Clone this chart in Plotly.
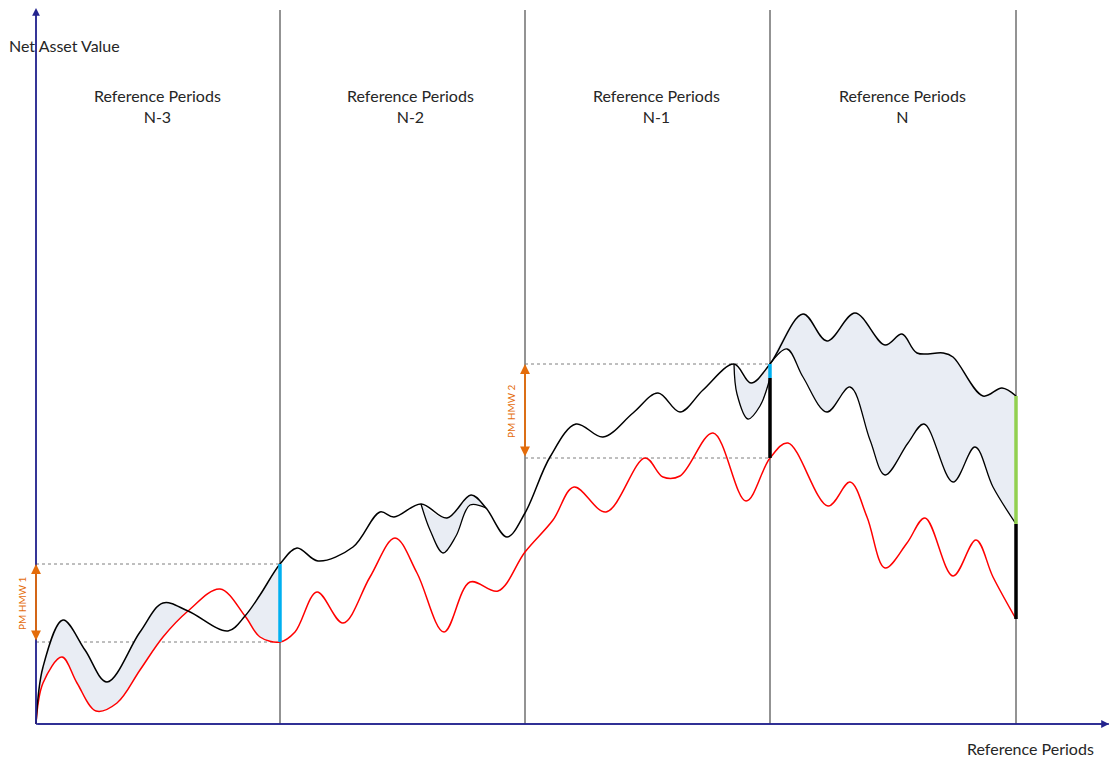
import plotly.graph_objects as go

# ---------------- data (time in days since start, NAV in index units) ----------------
period_bounds = [0, 244, 489, 734, 980]
period_names = ["N-3", "N-2", "N-1", "N"]

nav_t = [0, 7, 27, 49, 71, 104, 127, 152, 192, 209, 224, 244,
         261, 282, 317, 344, 358, 385, 411, 435, 450, 471, 489,
         514, 540, 567, 597, 622, 644, 667, 698, 715, 734,
         767, 791, 819, 849, 866, 881, 907, 917, 947, 966, 980]
nav_v = [0, 57, 104, 74, 42, 92, 121, 113, 93, 108, 129, 160,
         176, 163, 177, 212, 207, 220, 206, 229, 216, 187, 211,
         267, 300, 287, 311, 331, 312, 334, 360, 341, 360,
         410, 383, 411, 379, 390, 371, 371, 367, 328, 336, 328]

red_t = [0, 7, 26, 41, 60, 81, 104, 127, 152, 184, 209, 224, 244,
         259, 281, 307, 334, 359, 381, 408, 434, 462, 489,
         517, 538, 570, 609, 627, 644, 677, 710, 734,
         752, 792, 814, 831, 849, 871, 889, 917, 940, 957, 980]
red_v = [0, 41, 67, 41, 13, 21, 54, 87, 113, 135, 108, 87, 82,
         92, 132, 101, 147, 186, 151, 92, 142, 133, 172,
         204, 237, 212, 266, 247, 248, 291, 223, 266,
         281, 218, 242, 207, 156, 181, 206, 148, 184, 147, 105]

br_n2_t = [385, 394, 407, 420, 434, 450]
br_n2_v = [220, 194, 171, 188, 219, 216]
br_n1_t = [698, 701, 712, 724, 734]
br_n1_v = [360, 330, 305, 318, 346]
br_n_t = [734, 751, 767, 791, 814, 834, 849, 872, 888, 917, 939, 957, 980]
br_n_v = [360, 375, 347, 312, 337, 284, 249, 281, 300, 242, 277, 237, 200]

hmw_labels = ["PM HMW 1", "PM HMW 2"]

# ---------------- styles ----------------
FONT = "Lato"
AXIS_C = "#23238e"
GRID_C = "#595959"
FILL_C = "#e9edf4"
ORANGE = "#e46c0a"
CYAN = "#00b0f0"
GREEN = "#92d050"
TITLE_X = [121, 374, 620, 866]


def seg(ts, vs, a, b):
    pts = [(t, v) for t, v in zip(ts, vs) if a <= t <= b]
    return [p[0] for p in pts], [p[1] for p in pts]


def val_at(ts, vs, t):
    return vs[ts.index(t)]


fig = go.Figure()

# shaded areas (lower boundary first, then upper with tonexty)
regions = [
    ((nav_t, nav_v), (red_t, red_v), 0, 152),
    ((nav_t, nav_v), (red_t, red_v), 209, 244),
    ((nav_t, nav_v), (br_n2_t, br_n2_v), 385, 450),
    ((nav_t, nav_v), (br_n1_t, br_n1_v), 698, 734),
    ((nav_t, nav_v), (br_n_t, br_n_v), 734, 980),
]
for (hi, lo, a, b) in regions:
    lx, ly = seg(lo[0], lo[1], a, b)
    hx, hy = seg(hi[0], hi[1], a, b)
    fig.add_trace(go.Scatter(x=lx, y=ly, mode="lines", line=dict(width=0, shape="spline"),
                             hoverinfo="skip", showlegend=False))
    fig.add_trace(go.Scatter(x=hx, y=hy, mode="lines", line=dict(width=0, shape="spline"),
                             fill="tonexty", fillcolor=FILL_C, hoverinfo="skip", showlegend=False))

# curves
fig.add_trace(go.Scatter(x=red_t, y=red_v, mode="lines",
                         line=dict(color="#ff0000", width=1.5, shape="spline"), showlegend=False))
for bt, bv in [(br_n2_t, br_n2_v), (br_n1_t, br_n1_v), (br_n_t, br_n_v)]:
    fig.add_trace(go.Scatter(x=bt, y=bv, mode="lines",
                             line=dict(color="#000000", width=1.3, shape="spline"), showlegend=False))
fig.add_trace(go.Scatter(x=nav_t, y=nav_v, mode="lines",
                         line=dict(color="#000000", width=1.5, shape="spline"), showlegend=False))

shapes = []
top = 714
# period separators
for t in period_bounds[1:]:
    shapes.append(dict(type="line", x0=t, x1=t, y0=0, y1=top, layer="below",
                       line=dict(color=GRID_C, width=1.3)))

# high water mark dotted lines
p1, p2, p3 = period_bounds[1], period_bounds[2], period_bounds[3]
hmw1_hi = val_at(nav_t, nav_v, p1)
hmw1_lo = val_at(red_t, red_v, p1)
hmw2_hi = val_at(nav_t, nav_v, p3)
hmw2_lo = val_at(red_t, red_v, p3)
for (x0, x1, y) in [(0, p1, hmw1_hi), (0, p1, hmw1_lo), (p2, p3, hmw2_hi), (p2, p3, hmw2_lo)]:
    shapes.append(dict(type="line", x0=x0, x1=x1, y0=y, y1=y, layer="below",
                       line=dict(color="#7f7f7f", width=1, dash="dot")))

# coloured vertical markers
p4 = period_bounds[4]
n1_lo = val_at(br_n1_t, br_n1_v, p3)
n_hi = val_at(nav_t, nav_v, p4)
n_lo = val_at(br_n_t, br_n_v, p4)
n_red = val_at(red_t, red_v, p4)
for (x, y0, y1, c) in [(p1, hmw1_lo, hmw1_hi, CYAN),
                       (p3, n1_lo, hmw2_hi, CYAN),
                       (p3, hmw2_lo, n1_lo, "#000000"),
                       (p4, n_lo, n_hi, GREEN),
                       (p4, n_red, n_lo, "#000000")]:
    shapes.append(dict(type="line", x0=x, x1=x, y0=y0, y1=y1, layer="above",
                       line=dict(color=c, width=3.5)))

annotations = []
# axes with arrows
annotations.append(dict(x=0, y=top + 2, ax=0, ay=0, xref="x", yref="y", axref="x", ayref="y",
                        showarrow=True, arrowhead=2, arrowsize=1.2, arrowwidth=1.3,
                        arrowcolor=AXIS_C, text="", standoff=0))
annotations.append(dict(x=1073, y=0, ax=0, ay=0, xref="x", yref="y", axref="x", ayref="y",
                        showarrow=True, arrowhead=2, arrowsize=1.2, arrowwidth=1.3,
                        arrowcolor=AXIS_C, text="", standoff=0))
# HMW arrows
for (x, ylo, yhi) in [(0, hmw1_lo, hmw1_hi), (p2, hmw2_lo, hmw2_hi)]:
    annotations.append(dict(x=x, y=yhi, ax=x, ay=ylo, xref="x", yref="y", axref="x", ayref="y",
                            showarrow=True, arrowhead=2, startarrowhead=2, arrowside="end+start",
                            arrowsize=1.1, startarrowsize=1.1, arrowwidth=1.8,
                            arrowcolor=ORANGE, text="", standoff=0, startstandoff=0))
for (x, ylo, yhi, lab) in [(0, hmw1_lo, hmw1_hi, hmw_labels[0]),
                           (p2, hmw2_lo, hmw2_hi, hmw_labels[1])]:
    annotations.append(dict(x=x - 14, y=(ylo + yhi) / 2, xref="x", yref="y", text=lab,
                            showarrow=False, textangle=-90,
                            font=dict(family=FONT, size=10, color=ORANGE)))

# period titles
for i, name in enumerate(period_names):
    annotations.append(dict(x=TITLE_X[i], y=618, xref="x", yref="y",
                            text="Reference Periods<br>" + name, showarrow=False,
                            font=dict(family=FONT, size=16, color="#262626")))

annotations.append(dict(x=-29, y=679, xref="x", yref="y", text="Net Asset Value",
                        showarrow=False, xanchor="left",
                        font=dict(family=FONT, size=16, color="#262626")))
annotations.append(dict(x=929, y=-24, xref="x", yref="y", text="Reference Periods",
                        showarrow=False, xanchor="left",
                        font=dict(family=FONT, size=16, color="#262626")))

fig.update_layout(
    width=1110, height=758,
    margin=dict(l=0, r=0, t=0, b=0),
    paper_bgcolor="white", plot_bgcolor="white",
    xaxis=dict(range=[-36, 1074], visible=False, fixedrange=True),
    yaxis=dict(range=[-34, 724], visible=False, fixedrange=True),
    shapes=shapes, annotations=annotations, showlegend=False,
)
# axis lines
fig.add_shape(type="line", x0=0, x1=1073, y0=0, y1=0, line=dict(color=AXIS_C, width=1.5), layer="above")
fig.add_shape(type="line", x0=0, x1=0, y0=0, y1=top, line=dict(color=AXIS_C, width=1.5), layer="above")

fig.write_html("out.html", config={"displayModeBar": False},
               post_script="document.body.style.margin='0';")
